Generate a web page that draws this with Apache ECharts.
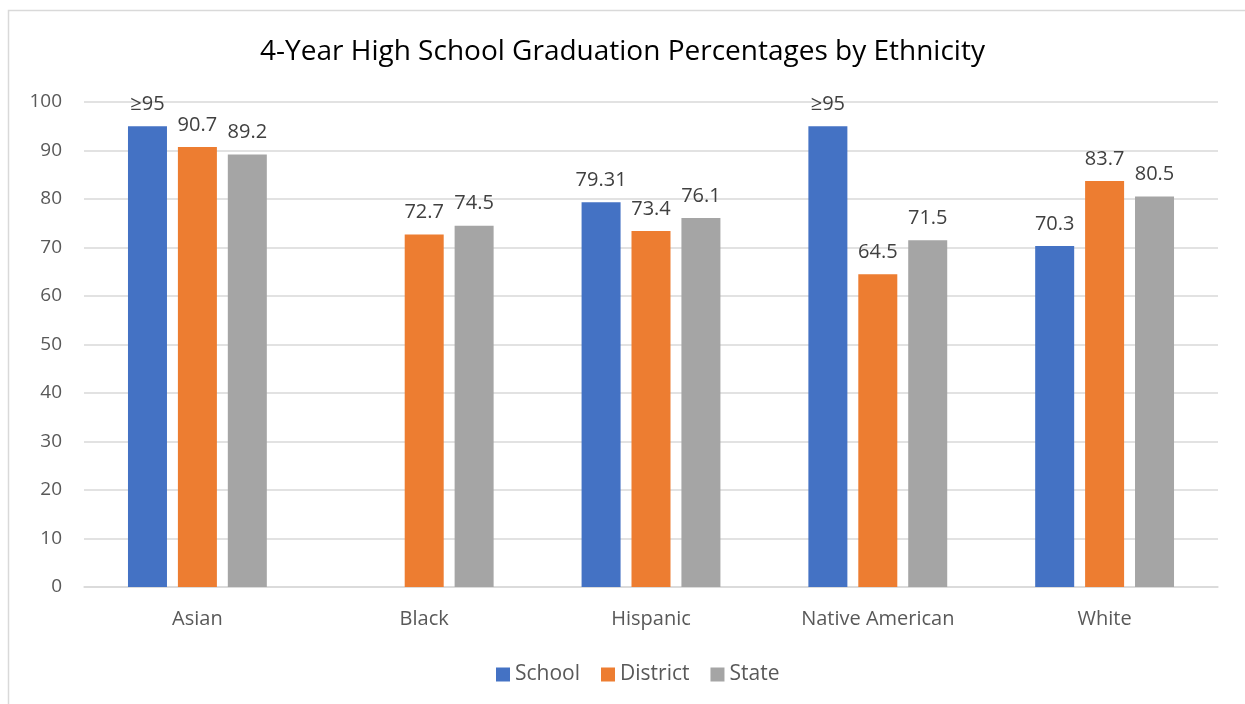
<!DOCTYPE html>
<html>
<head>
<meta charset="utf-8">
<script src="https://cdn.jsdelivr.net/npm/echarts@6/dist/echarts.min.js"></script>
<style>html,body{margin:0;padding:0;background:#fff;}#c{width:1245px;height:704px;}</style>
</head>
<body>
<div id="c"></div>
<script>
var categories = ['Asian', 'Black', 'Hispanic', 'Native American', 'White'];
var schoolValues = [95, null, 79.31, 95, 70.3];
var schoolLabels = ['≥95', '', '79.31', '≥95', '70.3'];
var districtValues = [90.7, 72.7, 73.4, 64.5, 83.7];
var stateValues = [89.2, 74.5, 76.1, 71.5, 80.5];
var yTicks = [0, 100, 10];

var font = '"Open Sans", "Noto Sans", sans-serif';
var chart = echarts.init(document.getElementById('c'), null, {renderer: 'canvas'});
function lbl(arr) {
  return {
    show: true, position: 'top', distance: 12, color: '#404040', fontSize: 20, fontFamily: font,
    formatter: arr ? function (p) { return arr[p.dataIndex]; } : function (p) { return p.value; }
  };
}
chart.setOption({
  animation: false,
  color: ['#4472C4', '#ED7D31', '#A5A5A5'],
  graphic: [{
    type: 'rect', shape: {x: 8.5, y: 10.5, width: 1300, height: 800},
    style: {fill: 'none', stroke: '#d9d9d9', lineWidth: 1.5}, silent: true
  }],
  title: {
    text: '4-Year High School Graduation Percentages by Ethnicity',
    left: 'center', top: 33,
    textStyle: {fontFamily: font, fontSize: 28, fontWeight: 'normal', color: '#000'}
  },
  legend: {
    bottom: 14, left: 491, itemWidth: 14, itemHeight: 14, itemGap: 21,
    icon: 'rect',
    textStyle: {fontFamily: font, fontSize: 21, color: '#595959'},
    data: ['School', 'District', 'State']
  },
  grid: {left: 84, right: 27, top: 102, bottom: 117, containLabel: false},
  xAxis: {
    type: 'category', data: categories,
    axisLine: {lineStyle: {color: '#d9d9d9', width: 1.5}},
    axisTick: {show: false},
    axisLabel: {fontFamily: font, fontSize: 20, color: '#595959', margin: 22}
  },
  yAxis: {
    type: 'value', min: yTicks[0], max: yTicks[1], interval: yTicks[2],
    axisLine: {show: false}, axisTick: {show: false},
    splitLine: {lineStyle: {color: '#d9d9d9', width: 1.5}},
    axisLabel: {fontFamily: font, fontSize: 19, color: '#595959', margin: 22}
  },
  series: [
    {name: 'School', type: 'bar', data: schoolValues, barWidth: 39, barGap: '28%', label: lbl(schoolLabels)},
    {name: 'District', type: 'bar', data: districtValues, barWidth: 39, barGap: '28%', label: lbl()},
    {name: 'State', type: 'bar', data: stateValues, barWidth: 39, barGap: '28%', label: lbl()}
  ]
});
</script>
</body>
</html>
